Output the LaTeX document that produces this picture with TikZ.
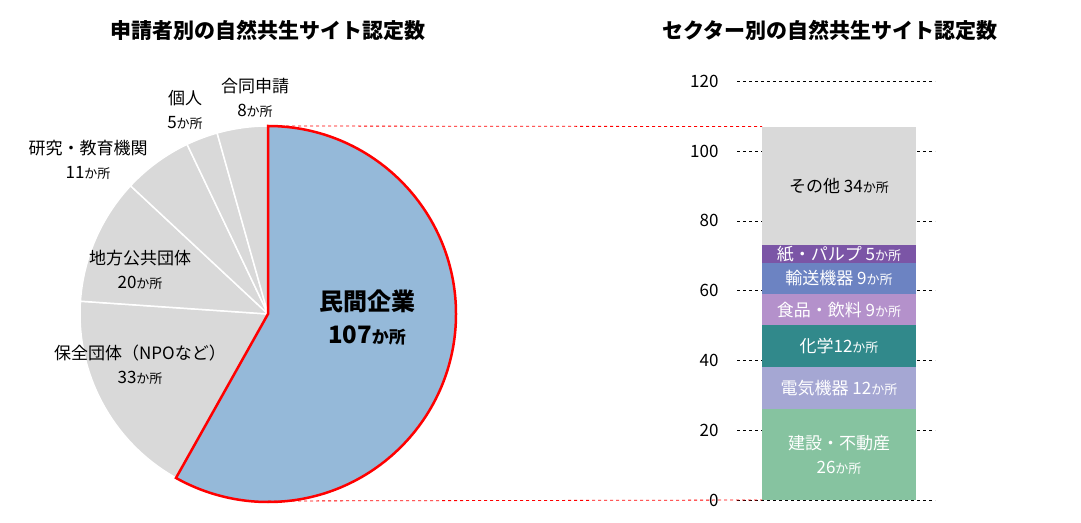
\documentclass[tikz,border=0pt]{standalone}
\usepackage{fontspec}
\setmainfont{Noto Sans CJK JP}
\usetikzlibrary{positioning}
\definecolor{pgray}{HTML}{D9D9D9}
\definecolor{pblue}{HTML}{95B9D9}
\definecolor{sgreen}{HTML}{86C3A0}
\definecolor{slav}{HTML}{A5A7D3}
\definecolor{steal}{HTML}{31898B}
\definecolor{slilac}{HTML}{B491CB}
\definecolor{sblue}{HTML}{6C83C2}
\definecolor{spurp}{HTML}{7B55A6}
\newcommand{\ks}{{\fontsize{13}{15}\selectfont か所}}
\tikzset{
  title/.style = {font=\bfseries\fontsize{21}{24}\selectfont},
  lbl/.style   = {align=center, font=\fontsize{17}{24}\selectfont},
  wlbl/.style  = {lbl, text=white},
  tick/.style  = {anchor=east, font=\fontsize{17}{20}\selectfont},
  grid/.style  = {dashed, thin},
  slice/.style = {fill=pgray, draw=white, line width=1.5pt}
}
\begin{document}
\begin{tikzpicture}[x=1pt,y=1pt]
\useasboundingbox (0,0) rectangle (1081,522);
% titles
\node[title] (t1) at (268,492) {申請者別の自然共生サイト認定数};
\node[title] (t2) at (830,492) {セクター別の自然共生サイト認定数};

% pie
\coordinate (pc) at (268,208);
\def\r{188}
\foreach \a/\b in {-119.3/-183.9,-183.9/-223.0,-223.0/-244.5,-244.5/-254.3,-254.3/-270}
  \draw[slice] (pc) -- ++(\a:\r) arc (\a:\b:\r) -- cycle;
\draw[fill=pblue, draw=red, line width=2.5pt, line join=miter]
  (pc) -- ++(90:\r) arc (90:-119.3:\r) -- cycle;
\coordinate (ptop) at (268,396);
\coordinate (pbot) at (268,21);

\node[lbl] (n1) at (255,424) {合同申請\\8\ks};
\node[lbl] (n2) at (185,412) {個人\\5\ks};
\node[lbl] (n3) at (88,362) {研究・教育機関\\11\ks};
\node[lbl] (n4) at (140,252) {地方公共団体\\20\ks};
\node[lbl] (n5) at (140,157) {保全団体（NPOなど）\\33\ks};
\node[align=center, font=\bfseries\fontsize{24}{33}\selectfont] (n6) at (367,205) {民間企業\\107{\fontsize{17}{20}\selectfont か所}};

% bar chart
\begin{scope}[yshift=22pt, y=3.49pt]
\foreach \v in {0,20,...,120} {
  \draw[grid] (737,\v) -- (935,\v);
  \node[tick] (y\v) at (722,\v) {\v};
}
\foreach \lo/\hi/\c in {0/26/sgreen,26/38/slav,38/50/steal,50/59/slilac,59/68/sblue,68/73/spurp,73/107/pgray}
  \fill[\c] (762,\lo) rectangle (916,\hi);
\coordinate (btop) at (762,107);
\coordinate (bbot) at (762,0);
\node[wlbl] (s1) at (839,13) {建設・不動産\\26\ks};
\node[wlbl] (s2) at (839,32) {電気機器 12\ks};
\node[wlbl] (s3) at (839,44) {化学12\ks};
\node[wlbl] (s4) at (839,54.5) {食品・飲料 9\ks};
\node[wlbl] (s5) at (839,63.5) {輸送機器 9\ks};
\node[wlbl] (s6) at (839,70.5) {紙・パルプ 5\ks};
\node[lbl] (s7) at (839,90) {その他 34\ks};
\end{scope}

% connectors
\draw[red, dashed, thick] (ptop) -- (btop);
\draw[red, dashed, thick] (pbot) -- (bbot);
\end{tikzpicture}
\end{document}
